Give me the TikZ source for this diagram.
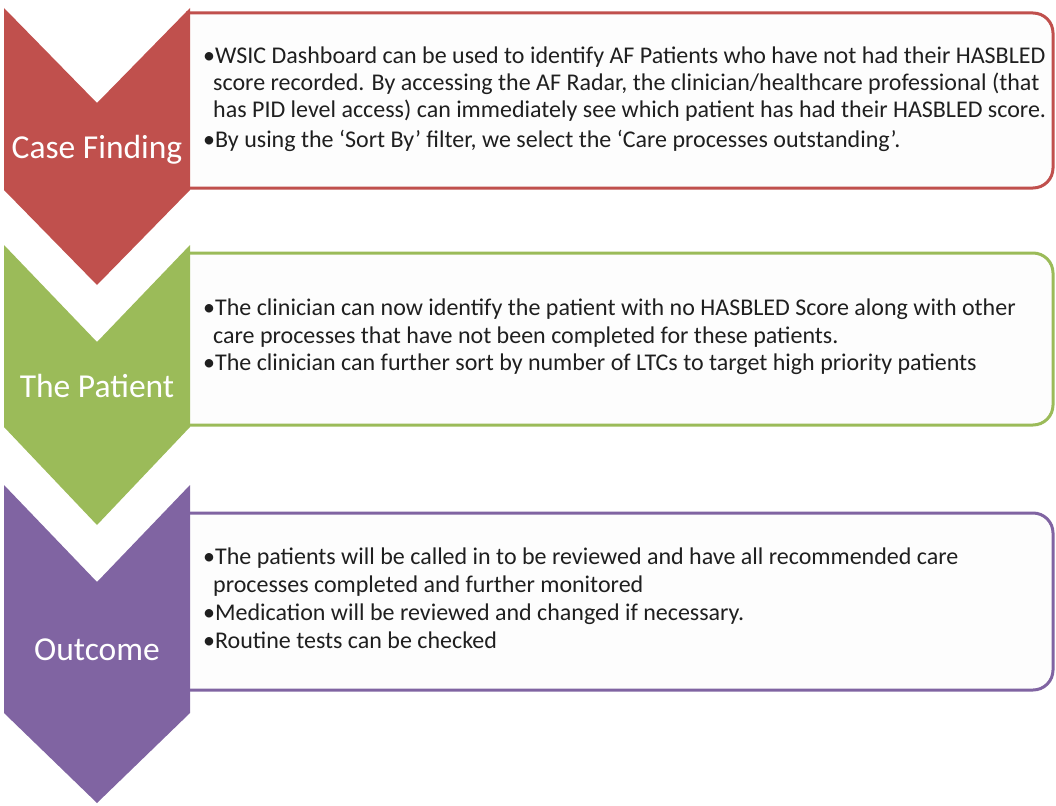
\documentclass[tikz,border=0pt]{standalone}
\usepackage{fontspec}
\setmainfont{Carlito}
\definecolor{cfred}{HTML}{C0504D}
\definecolor{cfgreen}{HTML}{9BBB59}
\definecolor{cfpurple}{HTML}{8064A2}
\definecolor{boxfill}{HTML}{FDFDFD}
\tikzset{
  panel/.style={line width=3pt, fill=boxfill, rounded corners=20pt},
  label/.style={text=white, font=\fontsize{33.5}{38}\selectfont, inner sep=0pt, anchor=base},
  txt/.style={font=\fontsize{24}{27.3}\selectfont, align=left, inner sep=0pt, anchor=base west, text=black!88}
}
\begin{document}
\begin{tikzpicture}[x=1pt,y=-1pt]
\useasboundingbox (0,0) rectangle (1056,805);
% red
\draw[panel, draw=cfred] (186,13) -- (1053,13) -- (1053,188) -- (186,188);
\fill[cfred] (4,8) -- (97,103) -- (190,8) -- (190,190) -- (97,285) -- (4,190) -- cycle;
\node[label] (l1) at (97,158) {Case Finding};
\node[txt] (r1) at (203,118) {•WSIC Dashboard can be used to identify AF Patients who have not had their HASBLED\\\hspace*{10pt}score recorded. By accessing the AF Radar, the clinician/healthcare professional (that\\\hspace*{10pt}has PID level access) can immediately see which patient has had their HASBLED score.};
\node[txt] (r2) at (203,148) {•By using the ‘Sort By’ filter, we select the ‘Care processes outstanding’.};
% green
\draw[panel, draw=cfgreen] (186,253) -- (1053,253) -- (1053,425) -- (186,425);
\fill[cfgreen] (4,245) -- (97,342) -- (190,245) -- (190,427) -- (97,525) -- (4,427) -- cycle;
\node[label] (l2) at (97,397) {The Patient};
\node[txt] (g1) at (203,343) {•The clinician can now identify the patient with no HASBLED Score along with other\\\hspace*{10pt}care processes that have not been completed for these patients.};
\node[txt] (g2) at (203,370) {•The clinician can further sort by number of LTCs to target high priority patients};
% purple
\draw[panel, draw=cfpurple] (186,513) -- (1053,513) -- (1053,690) -- (186,690);
\fill[cfpurple] (4,485) -- (97,582) -- (190,485) -- (190,713) -- (97,803) -- (4,713) -- cycle;
\node[label] (l3) at (97,660) {Outcome};
\node[txt] (p1) at (203,592) {•The patients will be called in to be reviewed and have all recommended care\\\hspace*{10pt}processes completed and further monitored};
\node[txt] (p2) at (203,620) {•Medication will be reviewed and changed if necessary.};
\node[txt] (p3) at (203,648) {•Routine tests can be checked};
\end{tikzpicture}
\end{document}
